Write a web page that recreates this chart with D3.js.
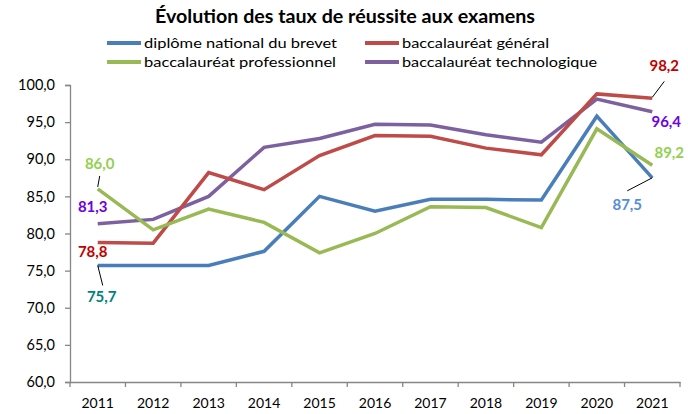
<!DOCTYPE html>
<html>
<head>
<meta charset="utf-8">
<script src="https://cdn.jsdelivr.net/npm/d3@7"></script>
<style>
  html, body { margin: 0; padding: 0; background: #fff; }
  svg { display: block; font-family: Lato, "Open Sans", sans-serif; }
</style>
</head>
<body>
<svg id="chart" width="688" height="414"></svg>
<script>
const years = ["2011","2012","2013","2014","2015","2016","2017","2018","2019","2020","2021"];
const brevet = [75.7, 75.7, 75.7, 77.6, 85.0, 83.0, 84.6, 84.6, 84.5, 95.8, 87.5];
const general = [78.8, 78.7, 88.2, 85.9, 90.5, 93.2, 93.1, 91.5, 90.6, 98.8, 98.2];
const pro = [86.0, 80.5, 83.3, 81.5, 77.4, 80.0, 83.6, 83.5, 80.8, 94.1, 89.2];
const techno = [81.3, 81.9, 85.0, 91.6, 92.8, 94.7, 94.6, 93.3, 92.3, 98.1, 96.4];
const seriesNames = ["diplôme national du brevet", "baccalauréat général", "baccalauréat professionnel", "baccalauréat technologique"];
const yTicks = [60, 65, 70, 75, 80, 85, 90, 95, 100];
const titleText = "Évolution des taux de réussite aux examens";

const seriesColors = ["#4a7ebb", "#be4b48", "#98b954", "#7d60a0"];
const labelColors = ["#558ed5", "#c00000", "#92d050", "#7000e0"];
const firstLabelColors = ["#008080", "#c00000", "#92d050", "#7000e0"];

const svg = d3.select("#chart");
const x = d3.scaleBand().domain(years).range([70, 680]);
const y = d3.scaleLinear().domain([60, 100]).range([382, 85]);
const fmt = v => v.toFixed(1).replace(".", ",");

// Title
svg.append("text").attr("x", 345).attr("y", 23).attr("text-anchor", "middle")
  .attr("font-size", 18).attr("font-weight", "bold").attr("fill", "#000")
  .attr("textLength", 380).attr("lengthAdjust", "spacingAndGlyphs").text(titleText);

// Legend
const legendPos = [[107, 43], [365, 43], [107, 62], [365, 62]];
const legendW = [193, 147, 192, 195];
seriesNames.forEach((n, i) => {
  const [lx, ly] = legendPos[i];
  svg.append("line").attr("x1", lx).attr("x2", lx + 34).attr("y1", ly).attr("y2", ly)
    .attr("stroke", seriesColors[i]).attr("stroke-width", 4);
  svg.append("text").attr("x", lx + 37).attr("y", ly + 5).attr("font-size", 14)
    .attr("fill", "#000").attr("textLength", legendW[i]).attr("lengthAdjust", "spacingAndGlyphs").text(n);
});

// Axes
const yAxis = svg.append("g").attr("transform", "translate(70,0)")
  .call(d3.axisLeft(y).tickValues(yTicks).tickSize(5).tickFormat(fmt));
const xAxis = svg.append("g").attr("transform", "translate(0,382)")
  .call(d3.axisBottom(x).tickSize(0).tickPadding(16));
[yAxis, xAxis].forEach(g => {
  g.select(".domain").attr("stroke", "#868686").attr("stroke-width", 1.3);
  g.selectAll(".tick line").attr("stroke", "#868686").attr("stroke-width", 1.3);
  g.selectAll("text").attr("font-family", "Lato, sans-serif").attr("font-size", 14.5).attr("fill", "#000");
});
yAxis.selectAll("text").attr("x", -15);
xAxis.selectAll("text").attr("font-size", 14);
// x ticks at band boundaries
const bounds = years.map(d => x(d)).concat([x.range()[1]]);
svg.append("g").selectAll("line").data(bounds).join("line")
  .attr("x1", d => d).attr("x2", d => d).attr("y1", 382).attr("y2", 387)
  .attr("stroke", "#868686").attr("stroke-width", 1.3);

// Lines
const allSeries = [brevet, general, pro, techno];
const line = d3.line().x((d, i) => x(years[i]) + x.bandwidth() / 2).y(d => y(d));
const drawOrder = [3, 1, 0, 2];
drawOrder.forEach(i => {
  svg.append("path").datum(allSeries[i]).attr("d", line).attr("fill", "none")
    .attr("stroke", seriesColors[i]).attr("stroke-width", 3.5).attr("stroke-linejoin", "miter");
});

// Data labels (first and last values)
const cx = i => x(years[i]) + x.bandwidth() / 2;
const lastIdx = years.length - 1;
const firstOff = [[4, 33], [-5, 11], [2, -24], [-5, -16]];
const lastOff = [[-25, 28], [12, -31], [17, -11], [14, 11]];
const firstLeader = [[[0, 0], [5, 20]], null, [[0, -2], [2, -13]], null];
const lastLeader = [[[0, 0], [-25, 13]], [[0, -1], [12, -17]], null, null];
allSeries.forEach((s, i) => {
  const px0 = cx(0), py0 = y(s[0]);
  if (firstLeader[i]) {
    svg.append("line").attr("x1", px0 + firstLeader[i][0][0]).attr("y1", py0 + firstLeader[i][0][1])
      .attr("x2", px0 + firstLeader[i][1][0]).attr("y2", py0 + firstLeader[i][1][1])
      .attr("stroke", "#000").attr("stroke-width", 1);
  }
  svg.append("text").attr("x", px0 + firstOff[i][0]).attr("y", py0 + firstOff[i][1])
    .attr("text-anchor", "middle").attr("dominant-baseline", "middle")
    .attr("font-size", 15).attr("font-weight", "bold").attr("fill", firstLabelColors[i]).text(fmt(s[0]));

  const px1 = cx(lastIdx), py1 = y(s[lastIdx]);
  if (lastLeader[i]) {
    svg.append("line").attr("x1", px1 + lastLeader[i][0][0]).attr("y1", py1 + lastLeader[i][0][1])
      .attr("x2", px1 + lastLeader[i][1][0]).attr("y2", py1 + lastLeader[i][1][1])
      .attr("stroke", "#000").attr("stroke-width", 1);
  }
  svg.append("text").attr("x", px1 + lastOff[i][0]).attr("y", py1 + lastOff[i][1])
    .attr("text-anchor", "middle").attr("dominant-baseline", "middle")
    .attr("font-size", 15).attr("font-weight", "bold").attr("fill", labelColors[i]).text(fmt(s[lastIdx]));
});
</script>
</body>
</html>
